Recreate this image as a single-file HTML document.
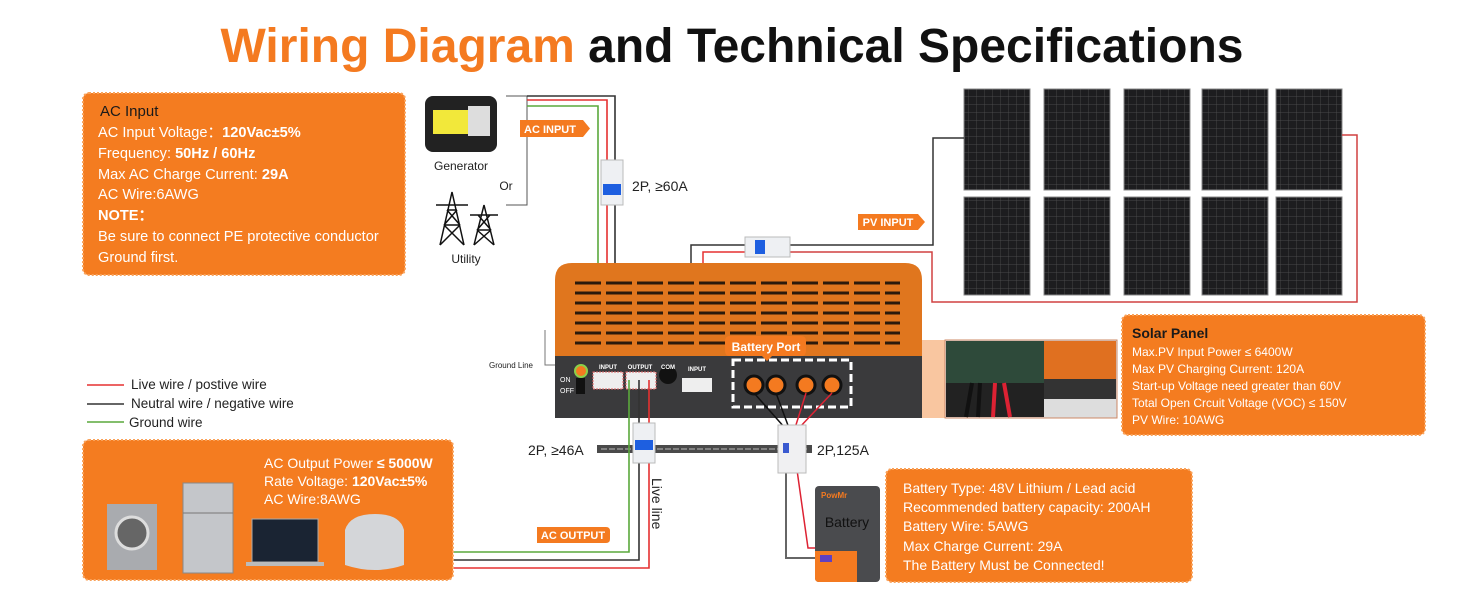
<!DOCTYPE html>
<html><head><meta charset="utf-8"><style>
html,body{margin:0;padding:0;background:#fff;}
body{width:1464px;height:600px;overflow:hidden;position:relative;font-family:"Liberation Sans",sans-serif;}
svg{position:absolute;left:0;top:0;}
</style></head><body>
<svg width="1464" height="600" viewBox="0 0 1464 600" font-family="Liberation Sans, sans-serif">
<defs>
<pattern id="panel" width="8" height="8" patternUnits="userSpaceOnUse">
<rect width="8" height="8" fill="#1d1d1f"/><path d="M0 0H8M0 0V8" stroke="#555" stroke-width="0.7"/>
</pattern>
</defs>
<text x="732" y="62" text-anchor="middle" font-size="48" font-weight="bold"><tspan fill="#f47a20">Wiring Diagram</tspan><tspan fill="#111"> and Technical Specifications</tspan></text>

<rect x="83" y="93" width="322" height="182" rx="6" fill="#f47c20" stroke="#f9a25a" stroke-width="2" stroke-dasharray="2 2"/>
<g fill="#fff" font-size="14.6">
<text x="100" y="116" font-size="15" fill="#1a1a1a">AC Input</text>
<text x="98" y="137">AC Input Voltage：<tspan font-weight="bold">120Vac±5%</tspan></text>
<text x="98" y="158">Frequency: <tspan font-weight="bold">50Hz / 60Hz</tspan></text>
<text x="98" y="179">Max AC Charge Current: <tspan font-weight="bold">29A</tspan></text>
<text x="98" y="199">AC Wire:6AWG</text>
<text x="98" y="220" font-weight="bold">NOTE：</text>
<text x="98" y="241">Be sure to  connect PE protective conductor</text>
<text x="98" y="262">Ground first.</text>
</g>

<rect x="425" y="96" width="72" height="56" rx="8" fill="#222"/>
<rect x="433" y="110" width="35" height="24" fill="#f2e83a"/>
<rect x="468" y="106" width="22" height="30" fill="#ddd"/>
<text x="461" y="170" text-anchor="middle" font-size="12" fill="#222">Generator</text>
<text x="506" y="190" text-anchor="middle" font-size="12" fill="#222">Or</text>
<g stroke="#111" stroke-width="1.5" fill="none">
<path d="M440 245 L452 192 L464 245 M444 225 L460 225 M447 210 L457 210 M436 205 L468 205 M444 225 L457 210 M460 225 L447 210 M440 245 L460 225 M464 245 L444 225"/>
<path d="M474 245 L484 205 L494 245 M470 215 L498 215 M477 230 L491 230 M477 230 L490 215 M491 230 L478 215 M474 245 L491 230 M494 245 L477 230"/>
</g>
<text x="466" y="263" text-anchor="middle" font-size="12" fill="#222">Utility</text>
<path d="M506 96 H527 V205 H506" stroke="#555" fill="none"/>
<path d="M527 96 H615 V378" stroke="#333" stroke-width="1.6" fill="none"/>
<path d="M527 100 H607 V378" stroke="#e53030" stroke-width="1.6" fill="none"/>
<path d="M527 106 H598 V378" stroke="#5aa83c" stroke-width="1.6" fill="none"/>
<path d="M520 120 H583 L590 128.5 L583 137 H520 Z" fill="#f47a20"/>
<text x="550" y="133" text-anchor="middle" font-size="11" font-weight="bold" fill="#fff">AC INPUT</text>
<rect x="601" y="160" width="22" height="45" fill="#eef0f3" stroke="#bbb"/>
<rect x="603" y="184" width="18" height="11" fill="#1e5fe0"/>
<text x="632" y="191" font-size="14" fill="#222">2P, ≥60A</text>

<g stroke="#888" stroke-width="1">
<rect x="964" y="89" width="66" height="101" fill="url(#panel)"/>
<rect x="1044" y="89" width="66" height="101" fill="url(#panel)"/>
<rect x="1124" y="89" width="66" height="101" fill="url(#panel)"/>
<rect x="1202" y="89" width="66" height="101" fill="url(#panel)"/>
<rect x="1276" y="89" width="66" height="101" fill="url(#panel)"/>
<rect x="964" y="197" width="66" height="98" fill="url(#panel)"/>
<rect x="1044" y="197" width="66" height="98" fill="url(#panel)"/>
<rect x="1124" y="197" width="66" height="98" fill="url(#panel)"/>
<rect x="1202" y="197" width="66" height="98" fill="url(#panel)"/>
<rect x="1276" y="197" width="66" height="98" fill="url(#panel)"/>
</g>
<path d="M964 138 H933 V245 H790" stroke="#333" stroke-width="1.5" fill="none"/>
<path d="M1342 135 H1357 V302 H932 V252 H790" stroke="#d04040" stroke-width="1.5" fill="none"/>
<path d="M745 245 H691 V375" stroke="#333" stroke-width="1.5" fill="none"/>
<path d="M745 252 H703 V375" stroke="#e53030" stroke-width="1.5" fill="none"/>
<rect x="745" y="237" width="45" height="20" fill="#eef0f3" stroke="#bbb"/>
<rect x="755" y="240" width="10" height="14" fill="#1e5fe0"/>
<path d="M858 214 H918 L925 222 L918 230 H858 Z" fill="#f47a20"/>
<text x="888" y="226" text-anchor="middle" font-size="11" font-weight="bold" fill="#fff">PV INPUT</text>

<path d="M555 280 Q555 263 572 263 H905 Q922 263 922 280 V358 H555 Z" fill="#e0761e"/>
<g stroke="#2b1a0c" stroke-width="3">
<path d="M575 283 H900 M575 293 H900 M575 303 H900 M575 313 H900 M575 323 H900 M575 333 H900 M575 343 H900" stroke-dasharray="26 5"/>
</g>
<rect x="555" y="356" width="367" height="62" fill="#3a3a3c"/>
<path d="M922 340 L945 340 L945 418 L922 418 Z" fill="#f5a060" opacity="0.6"/>
<circle cx="581" cy="371" r="6" fill="#f47a20" stroke="#8bd04a" stroke-width="2"/>
<text x="560" y="382" font-size="7" fill="#fff">ON</text><text x="560" y="393" font-size="7" fill="#fff">OFF</text>
<rect x="576" y="378" width="9" height="16" fill="#111"/>
<rect x="593" y="372" width="30" height="17" fill="#eee" stroke="#d66" stroke-dasharray="2 1"/>
<rect x="626" y="372" width="30" height="17" fill="#eee" stroke="#d66" stroke-dasharray="2 1"/>
<circle cx="668" cy="375" r="9" fill="#111"/>
<rect x="682" y="378" width="30" height="14" fill="#eee"/>
<g font-size="6" fill="#fff" text-anchor="middle" font-weight="bold">
<text x="608" y="369">INPUT</text><text x="640" y="369">OUTPUT</text><text x="668" y="369">COM</text><text x="697" y="371">INPUT</text>
</g>
<rect x="733" y="360" width="118" height="47" fill="none" stroke="#fff" stroke-width="3" stroke-dasharray="8 4"/>
<g fill="#f47a20" stroke="#111" stroke-width="3">
<circle cx="754" cy="385" r="9"/><circle cx="776" cy="385" r="9"/><circle cx="806" cy="385" r="9"/><circle cx="832" cy="385" r="9"/>
</g>
<path d="M730 336 H801 Q806 336 806 341 V351 Q806 356 801 356 H772 L767 361 L762 356 H730 Q725 356 725 351 V341 Q725 336 730 336 Z" fill="#f47a20"/>
<text x="766" y="351" text-anchor="middle" font-size="12" font-weight="bold" fill="#fff">Battery Port</text>
<path d="M555 365 H545 V330" stroke="#777" fill="none"/>
<text x="533" y="368" text-anchor="end" font-size="8" fill="#222">Ground Line</text>

<rect x="945" y="340" width="172" height="78" fill="#ddd"/>
<rect x="946" y="341" width="98" height="42" fill="#2e4a3a"/>
<rect x="946" y="383" width="98" height="34" fill="#222"/>
<g stroke="#111" stroke-width="4"><path d="M972 383 L966 417 M980 383 L978 417"/></g>
<g stroke="#d23" stroke-width="4"><path d="M995 383 L993 417 M1004 383 L1010 417"/></g>
<rect x="1044" y="341" width="72" height="38" fill="#e07020"/>
<rect x="1044" y="379" width="72" height="20" fill="#333"/>
<rect x="945" y="340" width="172" height="78" fill="none" stroke="#c86" />

<rect x="1122" y="315" width="303" height="120" rx="6" fill="#f47c20" stroke="#f9a25a" stroke-width="2" stroke-dasharray="2 2"/>
<g fill="#fff" font-size="12">
<text x="1132" y="338" font-size="14" font-weight="bold" fill="#1a1a1a">Solar Panel</text>
<text x="1132" y="356">Max.PV Input Power ≤ 6400W</text>
<text x="1132" y="373">Max PV Charging Current: 120A</text>
<text x="1132" y="390">Start-up Voltage need greater than 60V</text>
<text x="1132" y="407">Total Open Crcuit Voltage (VOC) ≤ 150V</text>
<text x="1132" y="424">PV Wire: 10AWG</text>
</g>

<g stroke-width="1.5">
<path d="M87 385 H124" stroke="#e53030"/><path d="M87 404 H124" stroke="#333"/><path d="M87 422 H124" stroke="#5aa83c"/>
</g>
<g font-size="13.5" fill="#222">
<text x="131" y="389">Live wire / postive wire</text>
<text x="131" y="408">Neutral wire / negative wire</text>
<text x="129" y="427">Ground wire</text>
</g>

<rect x="597" y="445" width="215" height="8" fill="#4a4a4a"/>
<path d="M601 449 H808" stroke="#bbb" stroke-dasharray="6 2"/>
<text x="528" y="455" font-size="14" fill="#222">2P, ≥46A</text>
<text x="817" y="455" font-size="14" fill="#222">2P,125A</text>

<path d="M629 380 V552 H453" stroke="#5aa83c" stroke-width="1.6" fill="none"/>
<path d="M639 380 V560 H453" stroke="#333" stroke-width="1.6" fill="none"/>
<path d="M649 380 V568 H453" stroke="#e53030" stroke-width="1.6" fill="none"/>
<rect x="633" y="423" width="22" height="40" fill="#eef0f3" stroke="#bbb"/>
<rect x="635" y="440" width="18" height="10" fill="#1e5fe0"/>
<text transform="translate(652,478) rotate(90)" font-size="14" fill="#222">Live line</text>
<path d="M537 527 H606 Q610 527 610 531 V539 Q610 543 606 543 H537 Z" fill="#f47a20"/>
<text x="573" y="539" text-anchor="middle" font-size="11" font-weight="bold" fill="#fff">AC OUTPUT</text>

<g stroke-width="1.5" fill="none">
<path d="M754 393 L785 428 M776 393 L789 428" stroke="#111"/>
<path d="M806 393 L795 428 M832 393 L799 428" stroke="#d23"/>
<path d="M786 470 V558 H815" stroke="#666" stroke-width="2"/>
<path d="M797 470 L808 548 H815" stroke="#d23"/>
</g>
<rect x="778" y="425" width="28" height="48" fill="#f0f0f2" stroke="#bbb"/>
<rect x="783" y="443" width="6" height="10" fill="#3a5ad0"/>
<rect x="815" y="486" width="65" height="96" rx="4" fill="#4a4b4e"/>
<path d="M815 551 H857 V582 H819 Q815 582 815 578 Z" fill="#f47a20"/>
<rect x="820" y="555" width="12" height="7" fill="#6040c0"/>
<text x="821" y="498" font-size="8" font-weight="bold" fill="#f47a20">PowMr</text>
<text x="847" y="527" text-anchor="middle" font-size="14" fill="#111">Battery</text>

<rect x="886" y="469" width="306" height="113" rx="6" fill="#f47c20" stroke="#f9a25a" stroke-width="2" stroke-dasharray="2 2"/>
<g fill="#fff" font-size="14">
<text x="903" y="493">Battery Type: 48V Lithium / Lead acid</text>
<text x="903" y="512">Recommended battery capacity: 200AH</text>
<text x="903" y="531">Battery Wire: 5AWG</text>
<text x="903" y="551">Max Charge Current: 29A</text>
<text x="903" y="570">The Battery Must be Connected!</text>
</g>

<rect x="83" y="440" width="370" height="140" rx="6" fill="#f47c20" stroke="#f9a25a" stroke-width="2" stroke-dasharray="2 2"/>
<g fill="#fff" font-size="14">
<text x="264" y="468">AC Output Power <tspan font-weight="bold">≤ 5000W</tspan></text>
<text x="264" y="486">Rate Voltage: <tspan font-weight="bold">120Vac±5%</tspan></text>
<text x="264" y="504">AC Wire:8AWG</text>
</g>
<rect x="107" y="504" width="50" height="66" fill="#a9abaf"/>
<circle cx="132" cy="533" r="16" fill="#666" stroke="#ddd" stroke-width="3"/>
<rect x="183" y="483" width="50" height="90" fill="#c4c6ca" stroke="#888"/>
<path d="M183 513 H233" stroke="#777"/>
<rect x="252" y="519" width="66" height="43" fill="#1a2433" stroke="#aaa"/>
<rect x="246" y="562" width="78" height="4" fill="#bbb"/>
<path d="M345 530 Q350 514 375 514 Q400 514 404 530 V565 Q375 575 345 565 Z" fill="#d4d6d9"/>
</svg>
</body></html>
